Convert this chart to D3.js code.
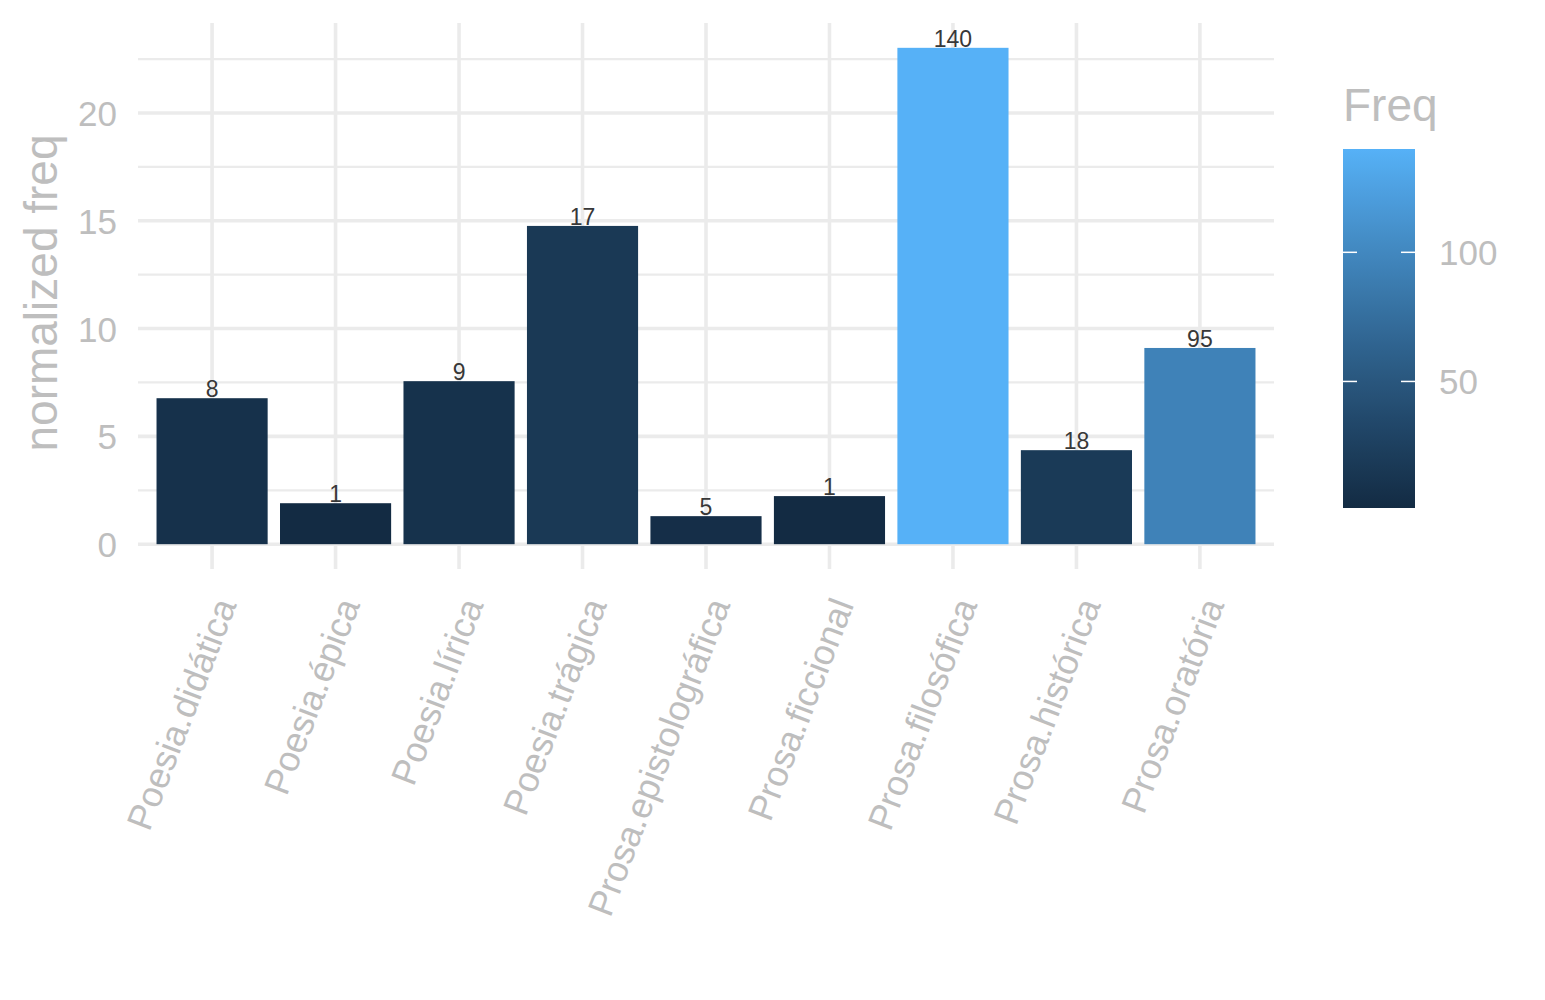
<!DOCTYPE html>
<html lang="en">

<head>
    <meta charset="utf-8">
    <title>normalized freq</title>
    <script src="https://cdn.jsdelivr.net/npm/d3@7"></script>
    <style>
        body { margin: 0; background: #fff; }
        text { font-family: "Liberation Sans", Arial, Helvetica, sans-serif; }
    </style>
</head>

<body>
    <script type="text/javascript">
        var categories = ["Poesia.didática", "Poesia.épica", "Poesia.lírica", "Poesia.trágica",
            "Prosa.epistolográfica", "Prosa.ficcional", "Prosa.filosófica", "Prosa.histórica", "Prosa.oratória"];
        var normFreq = [6.77, 1.90, 7.56, 14.76, 1.30, 2.23, 23.02, 4.36, 9.10];
        var freq = [8, 1, 9, 17, 5, 1, 140, 18, 95];
        var yTicks = [0, 5, 10, 15, 20];
        var yMinor = [2.5, 7.5, 12.5, 17.5, 22.5];
        var legendTicks = [50, 100];

        var width = 1545;
        var height = 1000;
        var panel = { left: 138, right: 1274, top: 23, bottom: 569 };
        var grey = "#BEBEBE";
        var gridColor = "#EBEBEB";

        var data = categories.map(function (c, i) {
            return { cat: c, value: normFreq[i], freq: freq[i] };
        });

        var svg = d3.select("body").append("svg")
            .attr("width", width)
            .attr("height", height);

        var x = d3.scaleBand()
            .domain(categories)
            .range([panel.left, panel.right])
            .paddingInner(0.1)
            .paddingOuter(0.15);

        var yMax = d3.max(normFreq);
        var y = d3.scaleLinear()
            .domain([-yMax * 0.05, yMax * 1.05])
            .range([panel.bottom, panel.top]);

        var fMin = d3.min(freq), fMax = d3.max(freq);
        var color = d3.scaleLinear()
            .domain([fMin, fMax])
            .range(["#132B43", "#56B1F7"])
            .interpolate(d3.interpolateLab);

        // grid
        var grid = svg.append("g");
        grid.selectAll(".minor")
            .data(yMinor)
            .enter().append("line")
            .attr("x1", panel.left).attr("x2", panel.right)
            .attr("y1", function (d) { return y(d); })
            .attr("y2", function (d) { return y(d); })
            .attr("stroke", gridColor).attr("stroke-width", 2.2);
        grid.selectAll(".major")
            .data(yTicks)
            .enter().append("line")
            .attr("x1", panel.left).attr("x2", panel.right)
            .attr("y1", function (d) { return y(d); })
            .attr("y2", function (d) { return y(d); })
            .attr("stroke", gridColor).attr("stroke-width", 3.6);
        grid.selectAll(".vmajor")
            .data(categories)
            .enter().append("line")
            .attr("x1", function (d) { return x(d) + x.bandwidth() / 2; })
            .attr("x2", function (d) { return x(d) + x.bandwidth() / 2; })
            .attr("y1", panel.top).attr("y2", panel.bottom)
            .attr("stroke", gridColor).attr("stroke-width", 3.6);

        // bars
        svg.selectAll(".bar")
            .data(data)
            .enter().append("rect")
            .attr("x", function (d) { return x(d.cat); })
            .attr("width", x.bandwidth())
            .attr("y", function (d) { return y(d.value); })
            .attr("height", function (d) { return y(0) - y(d.value); })
            .attr("fill", function (d) { return color(d.freq); });

        svg.selectAll(".lbl")
            .data(data)
            .enter().append("text")
            .attr("x", function (d) { return x(d.cat) + x.bandwidth() / 2; })
            .attr("y", function (d) { return y(d.value) - 1; })
            .attr("text-anchor", "middle")
            .attr("font-size", 23)
            .attr("fill", "#383838")
            .text(function (d) { return d.freq; });

        // y axis
        var yAxis = svg.append("g")
            .attr("transform", "translate(" + (panel.left - 21) + ",0)")
            .call(d3.axisLeft(y).tickValues(yTicks).tickSize(0).tickPadding(0));
        yAxis.select(".domain").remove();
        yAxis.selectAll("text")
            .attr("font-size", 35)
            .attr("fill", grey)
            .attr("dy", "0.36em");

        // x axis
        var xAxis = svg.append("g")
            .attr("transform", "translate(0," + (panel.bottom + 31) + ")")
            .call(d3.axisBottom(x).tickSize(0).tickPadding(0));
        xAxis.select(".domain").remove();
        xAxis.selectAll("text")
            .attr("font-size", 36)
            .attr("fill", grey)
            .attr("text-anchor", "end")
            .attr("y", 0)
            .attr("dy", "0.35em")
            .attr("transform", "translate(13,0) rotate(-69)");

        svg.append("text")
            .attr("transform", "translate(57," + ((panel.top + panel.bottom) / 2 - 3) + ") rotate(-90)")
            .attr("text-anchor", "middle")
            .attr("font-size", 46)
            .attr("fill", grey)
            .text("normalized freq");

        // legend
        var leg = { x: 1343, top: 149, bottom: 508, w: 72 };
        var grad = svg.append("defs").append("linearGradient")
            .attr("id", "freqgrad")
            .attr("x1", 0).attr("y1", 1).attr("x2", 0).attr("y2", 0);
        d3.range(0, 1.0001, 0.05).forEach(function (t) {
            grad.append("stop")
                .attr("offset", t)
                .attr("stop-color", color(fMin + t * (fMax - fMin)));
        });

        var ly = d3.scaleLinear().domain([fMin, fMax]).range([leg.bottom, leg.top]);

        svg.append("rect")
            .attr("x", leg.x).attr("y", leg.top)
            .attr("width", leg.w).attr("height", leg.bottom - leg.top)
            .attr("fill", "url(#freqgrad)");

        var lt = svg.append("g").selectAll("g")
            .data(legendTicks)
            .enter().append("g")
            .attr("transform", function (d) { return "translate(0," + ly(d) + ")"; });
        lt.append("line")
            .attr("x1", leg.x).attr("x2", leg.x + 14)
            .attr("stroke", "#fff").attr("stroke-width", 1.5);
        lt.append("line")
            .attr("x1", leg.x + leg.w - 14).attr("x2", leg.x + leg.w)
            .attr("stroke", "#fff").attr("stroke-width", 1.5);
        lt.append("text")
            .attr("x", leg.x + leg.w + 24)
            .attr("dy", "0.36em")
            .attr("font-size", 35)
            .attr("fill", grey)
            .text(function (d) { return d; });

        svg.append("text")
            .attr("x", leg.x)
            .attr("y", 121)
            .attr("font-size", 46)
            .attr("fill", grey)
            .text("Freq");
    </script>
</body>

</html>
